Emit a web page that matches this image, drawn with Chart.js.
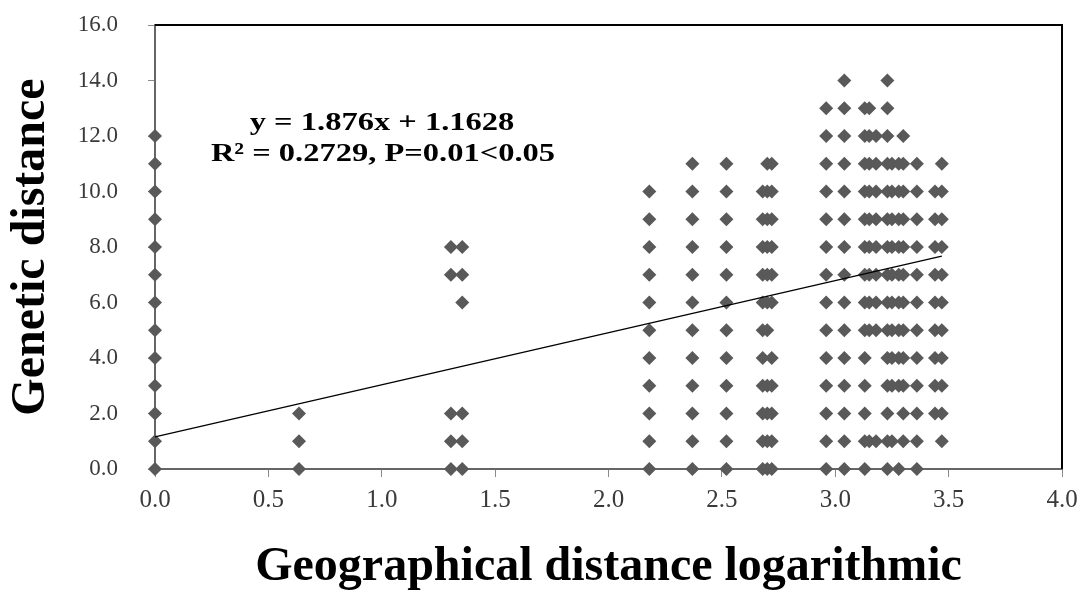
<!DOCTYPE html>
<html>
<head>
<meta charset="utf-8">
<script src="https://cdn.jsdelivr.net/npm/chart.js@4.4.1/dist/chart.umd.min.js"></script>
<style>
html,body{margin:0;padding:0;background:#ffffff;}
#wrap{width:1078px;height:592px;position:relative;}
</style>
</head>
<body>
<div id="wrap"><canvas id="c" width="1078" height="592"></canvas></div>
<script>
// ---- data ----
// x positions (log geographical distance) of each column of points
const colX = [0.00, 0.635, 1.305, 1.355, 2.18, 2.37, 2.52, 2.68, 2.70, 2.72,
              2.96, 3.04, 3.13, 3.15, 3.18, 3.23, 3.25, 3.28, 3.30, 3.36, 3.44, 3.47];
// genetic distance values found in each column
const colY = [
  [0,1,2,3,4,5,6,7,8,9,10,11,12],
  [0,1,2],
  [0,1,2,7,8],
  [0,1,2,6,7,8],
  [0,1,2,3,4,5,6,7,8,9,10],
  [0,1,2,3,4,5,6,7,8,9,10,11],
  [0,1,2,3,4,5,6,7,8,9,10,11],
  [0,1,2,3,4,5,6,7,8,9,10],
  [0,1,2,3,5,6,7,8,9,10,11],
  [0,1,2,3,4,6,7,8,9,10,11],
  [0,1,2,3,4,5,6,7,8,9,10,11,12,13],
  [0,1,2,3,4,5,6,7,8,9,10,11,12,13,14],
  [0,1,2,3,4,5,6,7,8,9,10,11,12,13],
  [1,5,6,7,8,9,10,11,12,13],
  [1,5,6,7,8,9,10,11,12],
  [0,1,2,3,4,5,6,7,8,9,10,11,12,13,14],
  [1,3,4,5,6,7,8,9,10,11],
  [0,3,4,5,6,7,8,9,10,11],
  [1,2,3,4,5,6,7,8,9,10,11,12],
  [0,1,2,3,4,5,6,7,8,9,10,11],
  [2,3,4,5,6,7,8,9,10],
  [1,2,3,4,5,6,7,8,9,10,11]
];
// fitted line end points, as drawn
const trendX = [0.00, 3.47];
const trendY = [1.16, 7.67];
// axis tick values
const xTickVals = [0, 0.5, 1.0, 1.5, 2.0, 2.5, 3.0, 3.5, 4.0];
const yTickVals = [0, 2, 4, 6, 8, 10, 12, 14, 16];
// texts
const xTitle = 'Geographical distance logarithmic';
const yTitle = 'Genetic distance';
const equationLines = ['y = 1.876x + 1.1628', 'R\u00B2 = 0.2729, P=0.01<0.05'];

// ---- build datasets ----
const scatterPts = [];
colX.forEach((x, i) => colY[i].forEach(y => scatterPts.push({x: x, y: y})));
const trendPts = trendX.map((x, i) => ({x: x, y: trendY[i]}));

const framePlugin = {
  id: 'frame',
  beforeDatasetsDraw(chart) {
    const a = chart.chartArea, ctx = chart.ctx;
    ctx.save();
    ctx.strokeStyle = '#000000';
    ctx.lineWidth = 2;
    ctx.beginPath();
    ctx.moveTo(a.left, a.top);
    ctx.lineTo(a.right, a.top);
    ctx.lineTo(a.right, a.bottom);
    ctx.stroke();
    ctx.restore();
  },
  afterDraw(chart) {
    const ctx = chart.ctx;
    ctx.save();
    ctx.fillStyle = '#000000';
    ctx.font = 'bold 26px "Liberation Serif", "Times New Roman", serif';
    ctx.textAlign = 'center';
    ctx.textBaseline = 'alphabetic';
    const pos = [[382, 130], [383, 161]];
    equationLines.forEach((t, i) => {
      ctx.save();
      ctx.translate(pos[i][0], pos[i][1]);
      ctx.scale(1.25, 1);
      ctx.fillText(t, 0, 0);
      ctx.restore();
    });
    ctx.restore();
  }
};

const tickFontX = {family: '"Liberation Serif", "Times New Roman", serif', size: 25};
const tickFontY = {family: '"Liberation Serif", "Times New Roman", serif', size: 23};
const titleFont = {family: '"Liberation Serif", "Times New Roman", serif', size: 48, weight: 'bold', lineHeight: 1.0};

new Chart(document.getElementById('c'), {
  type: 'scatter',
  data: {
    datasets: [
      {
        type: 'line',
        data: trendPts,
        borderColor: '#000000',
        borderWidth: 1.3,
        pointRadius: 0,
        fill: false,
        order: 0,
        clip: false
      },
      {
        data: scatterPts,
        pointStyle: 'rectRot',
        pointRadius: 7,
        backgroundColor: '#595959',
        borderWidth: 0,
        order: 1,
        clip: false
      }
    ]
  },
  options: {
    responsive: false,
    animation: false,
    events: [],
    layout: {padding: {top: 25, right: 16, left: 0, bottom: 0}},
    plugins: {legend: {display: false}, tooltip: {enabled: false}, title: {display: false}},
    scales: {
      x: {
        type: 'linear',
        min: 0, max: 4,
        afterBuildTicks: s => { s.ticks = xTickVals.map(v => ({value: v})); },
        afterFit: s => { s.height = 123; s.paddingLeft = 0; s.paddingRight = 0; },
        ticks: {
          font: tickFontX, color: '#3a3a3a', padding: 8,
          callback: v => Number(v).toFixed(1), maxRotation: 0, autoSkip: false
        },
        grid: {display: true, drawOnChartArea: false, drawTicks: true, tickLength: 8, color: '#8a8a8a', lineWidth: 1},
        border: {display: true, color: '#666666', width: 2},
        title: {display: true, text: xTitle, font: titleFont, color: '#000000', padding: {top: 0, bottom: 0}}
      },
      y: {
        type: 'linear',
        min: 0, max: 16,
        afterBuildTicks: s => { s.ticks = yTickVals.map(v => ({value: v})); },
        afterFit: s => { s.width = 155; s.paddingTop = 0; s.paddingBottom = 0; },
        ticks: {
          font: tickFontY, color: '#3a3a3a', padding: 30,
          callback: v => Number(v).toFixed(1), autoSkip: false
        },
        grid: {display: true, drawOnChartArea: false, drawTicks: true, tickLength: 7, color: '#8a8a8a', lineWidth: 1},
        border: {display: true, color: '#666666', width: 2},
        title: {display: true, text: yTitle, font: titleFont, color: '#000000', padding: {top: 8, bottom: 0}}
      }
    }
  },
  plugins: [framePlugin]
});
</script>
</body>
</html>
